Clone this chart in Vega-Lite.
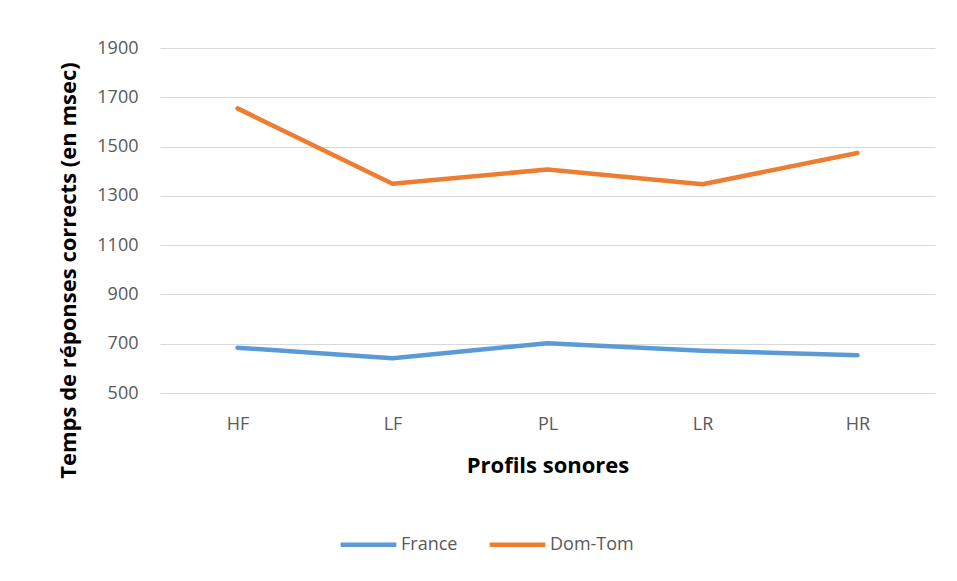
{
  "$schema": "https://vega.github.io/schema/vega-lite/v6.json",
  "width": 775,
  "height": 345,
  "autosize": {"type": "none"},
  "padding": {"left": 160, "top": 48, "right": 22, "bottom": 188},
  "background": "white",
  "data": {
    "values": [
      {"profil": "HF", "groupe": "France", "temps": 684},
      {"profil": "LF", "groupe": "France", "temps": 641},
      {"profil": "PL", "groupe": "France", "temps": 702},
      {"profil": "LR", "groupe": "France", "temps": 671},
      {"profil": "HR", "groupe": "France", "temps": 653},
      {"profil": "HF", "groupe": "Dom-Tom", "temps": 1655},
      {"profil": "LF", "groupe": "Dom-Tom", "temps": 1349},
      {"profil": "PL", "groupe": "Dom-Tom", "temps": 1407},
      {"profil": "LR", "groupe": "Dom-Tom", "temps": 1347},
      {"profil": "HR", "groupe": "Dom-Tom", "temps": 1474}
    ]
  },
  "mark": {"type": "line", "strokeWidth": 4.5, "strokeCap": "round", "strokeJoin": "round"},
  "encoding": {
    "x": {
      "field": "profil",
      "type": "ordinal",
      "sort": ["HF", "LF", "PL", "LR", "HR"],
      "scale": {"type": "point", "padding": 0.5},
      "axis": {
        "title": "Profils sonores",
        "labelAngle": 0,
        "ticks": false,
        "domain": false,
        "grid": false,
        "labelPadding": 22,
        "titlePadding": 22
      }
    },
    "y": {
      "field": "temps",
      "type": "quantitative",
      "scale": {"domain": [500, 1900], "nice": false, "zero": false},
      "axis": {
        "title": "Temps de réponses corrects (en msec)",
        "values": [500, 700, 900, 1100, 1300, 1500, 1700, 1900],
        "format": "d",
        "ticks": false,
        "domain": false,
        "labelPadding": 22,
        "titleX": -92,
        "titleY": 222,
        "titleAlign": "center",
        "titleBaseline": "middle"
      }
    },
    "color": {
      "field": "groupe",
      "type": "nominal",
      "sort": ["France", "Dom-Tom"],
      "scale": {"domain": ["France", "Dom-Tom"], "range": ["#5b9bd5", "#ed7d31"]},
      "legend": {
        "title": null,
        "orient": "none",
        "direction": "horizontal",
        "legendX": 178,
        "legendY": 466,
        "symbolType": "stroke",
        "symbolSize": 3100,
        "symbolStrokeWidth": 4.5,
        "labelOffset": 2,
        "columnPadding": 22
      }
    }
  },
  "config": {
    "view": {"stroke": null},
    "font": "Open Sans",
    "axis": {
      "labelFont": "Open Sans",
      "labelFontSize": 18,
      "labelColor": "#595959",
      "titleFont": "Open Sans",
      "titleFontSize": 22,
      "titleFontWeight": "bold",
      "titleColor": "#000000",
      "gridColor": "#d9d9d9",
      "gridWidth": 1
    },
    "legend": {
      "labelFont": "Open Sans",
      "labelFontSize": 18,
      "labelColor": "#595959"
    }
  }
}
